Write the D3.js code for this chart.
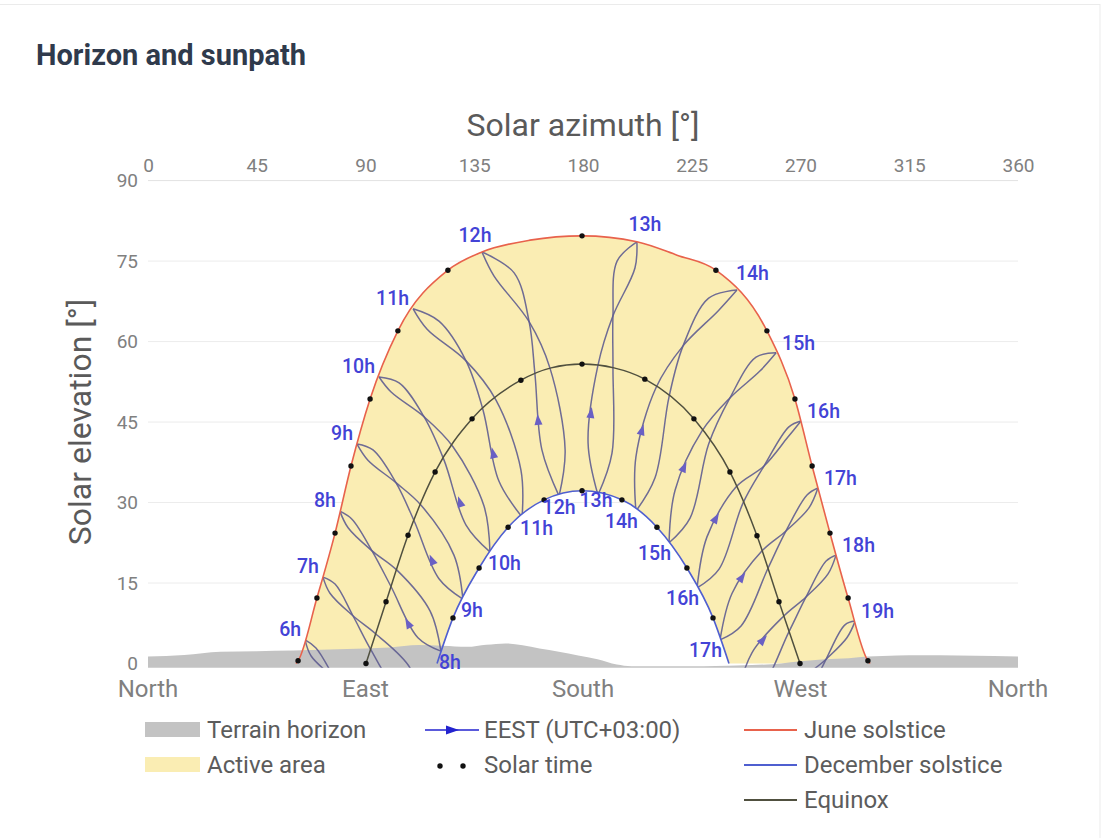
<!DOCTYPE html>
<html>
<head>
<meta charset="utf-8">
<script src="https://cdn.jsdelivr.net/npm/d3@7"></script>
<style>
  body { margin: 0; background: #fff; font-family: Roboto, "Open Sans", sans-serif; }
</style>
</head>
<body>
<div id="chart"></div>
<script>
// values, [azimuth, elevation] in degrees
var azimuthTicks = [0, 45, 90, 135, 180, 225, 270, 315, 360];
var elevationTicks = [0, 15, 30, 45, 60, 75, 90];
var compassNames = ["North", "East", "South", "West", "North"];
var compassAz = [0, 90, 180, 270, 360];

var terrainAz = [0, 15, 30, 45, 60, 75, 90, 100, 112, 122, 132, 140, 148, 155, 162, 170, 178, 186, 194, 200, 230, 250, 262, 270, 280, 290, 298, 310, 320, 335, 350, 360];
var terrainEl = [1.3, 1.6, 2.2, 2.3, 2.4, 2.6, 2.8, 3.0, 3.45, 3.3, 3.1, 3.5, 3.75, 3.4, 2.8, 2.2, 1.5, 0.8, -0.2, -0.5, -0.5, -0.3, 0.0, 0.4, 0.8, 1.0, 1.3, 1.5, 1.55, 1.5, 1.4, 1.3];

var juneSolstice = [[61.2,0],[62.1,0.5],[69.9,12.2],[77.4,24.3],[84.0,36.8],[91.9,49.3],[103.4,62.0],[124.1,73.3],[138.2,76.7],[158.1,78.9],[179.6,79.7],[202.3,78.6],[218.9,76.1],[235.0,73.3],[256.1,62.0],[267.7,49.3],[274.8,36.8],[282.2,24.3],[289.7,12.2],[297.9,0.5],[298.8,0]];
var equinox = [[90.2,0],[98.5,11.5],[107.6,23.9],[118.8,35.7],[134.1,45.6],[154.3,52.8],[166.8,55.1],[179.6,55.8],[192.8,55.1],[205.6,53.0],[225.9,45.6],[240.8,35.7],[252.0,23.8],[261.1,11.5],[269.8,0]];
var decSolstice = [[119.6,0],[126.2,8.5],[137.0,17.8],[149.0,25.4],[163.9,30.5],[179.6,32.2],[196.1,30.5],[210.6,25.4],[223.0,17.8],[233.8,8.5],[240.4,0]];

// solar-time dots
var juneDots = [[62.1,0.5],[69.9,12.2],[77.4,24.3],[84.0,36.8],[91.9,49.3],[103.4,62.0],[124.1,73.3],[179.6,79.7],[235.0,73.3],[256.1,62.0],[267.7,49.3],[274.8,36.8],[282.2,24.3],[289.7,12.2],[297.9,0.5]];
var equinoxDots = [[90.2,0],[98.5,11.5],[107.6,23.9],[118.8,35.7],[134.1,45.6],[154.3,52.8],[179.6,55.8],[205.6,53.0],[225.9,45.6],[240.8,35.7],[252.0,23.8],[261.1,11.5],[269.8,0]];
var decDots = [[126.2,8.5],[137.0,17.8],[149.0,25.4],[163.9,30.5],[179.6,32.2],[196.1,30.5],[210.6,25.4],[223.0,17.8],[233.8,8.5]];

// one loop per clock hour: june point, spring strand down to the december point, autumn strand back up
var hourNames = ["6h","7h","8h","9h","10h","11h","12h","13h","14h","15h","16h","17h","18h","19h"];
var analemmas = [
  [[65.0,4.4],[69.5,2.9],[77.0,-2.7],[84.0,-9.0],[98.1,-19.9],[106.3,-21.7],[104.3,-16.1],[86.1,-6.1],[77.0,-2.7],[67.5,1.4]],
  [[72.4,16.1],[77.4,14.8],[84.8,8.9],[92.3,2.5],[103.9,-5.7],[113.0,-8.1],[108.4,-0.8],[94.3,5.5],[84.8,8.9],[75.3,13.1]],
  [[79.4,28.4],[84.4,26.9],[92.7,21.0],[100.6,14.3],[111.7,4.8],[121.2,2.3],[116.7,9.8],[103.0,17.4],[92.7,21.0],[82.8,25.3]],
  [[86.5,40.9],[93.1,39.8],[102.6,33.7],[110.1,26.6],[120.4,15.8],[130.3,12.0],[126.6,20.2],[113.0,29.5],[102.6,33.7],[91.0,37.9]],
  [[95.6,53.4],[103.9,52.3],[114.2,46.0],[122.5,37.9],[131.6,25.8],[141.5,20.8],[139.0,29.4],[126.2,40.4],[114.2,46.0],[100.6,50.6]],
  [[109.7,66.1],[120.4,63.8],[131.6,56.4],[138.6,47.3],[145.2,34.0],[154.8,27.3],[154.3,36.1],[144.0,49.1],[131.6,56.4],[115.5,62.3]],
  [[138.2,76.7],[151.5,72.8],[157.7,63.7],[160.1,54.0],[163.0,39.8],[170.1,31.2],[172.6,39.8],[166.3,55.1],[157.7,63.7],[143.2,72.2]],
  [[202.3,78.6],[201.5,73.7],[192.4,64.8],[186.2,55.6],[182.1,41.1],[186.2,31.4],[192.0,39.2],[192.4,55.1],[192.4,64.8],[194.1,75.0]],
  [[243.7,69.6],[235.9,65.7],[221.4,59.2],[210.2,51.4],[201.9,38.5],[201.9,28.4],[209.8,34.6],[215.6,49.7],[221.4,59.2],[232.0,68.1]],
  [[259.9,57.9],[253.2,54.5],[240.8,49.5],[229.2,43.3],[218.1,32.3],[215.6,22.5],[224.3,27.1],[232.0,40.9],[240.8,49.5],[251.6,57.1]],
  [[270.2,45.2],[264.8,42.2],[254.9,36.8],[243.3,32.9],[231.3,23.6],[227.2,14.1],[236.3,17.6],[246.2,29.9],[254.9,36.8],[265.2,44.1]],
  [[277.2,32.7],[273.5,29.0],[264.0,24.7],[254.1,21.0],[241.7,13.1],[236.7,4.4],[245.4,7.0],[256.6,17.8],[264.0,24.7],[272.7,31.4]],
  [[284.7,20.2],[281.4,16.7],[272.3,12.4],[263.2,8.9],[249.9,2.0],[243.7,-6.1],[253.2,-4.6],[265.2,5.9],[272.3,12.4],[280.6,19.1]],
  [[292.6,7.9],[289.2,4.8],[280.6,0.8],[271.9,-2.7],[259.5,-12.4],[253.2,-14.3],[265.7,-18.0],[273.9,-5.7],[280.6,0.8],[288.4,7.2]]
];

// direction arrows on the spring strands
var arrowHours = ["8h","9h","10h","11h","12h","13h","14h","15h","16h","17h","18h"];
var arrowPoints = [[107.6,7.5],[117.5,19.3],[129.1,30.1],[142.8,39.2],[161.4,45.4],[183.3,46.7],[204.4,43.5],[221.8,36.6],[235.0,27.1],[245.8,16.1],[254.5,4.4]];

var legendLeft = ["Terrain horizon", "Active area"];
var legendMiddle = ["EEST (UTC+03:00)", "Solar time"];
var legendRight = ["June solstice", "December solstice", "Equinox"];

var W = 1103, H = 838;
var col = {
  yellow: "#faedb3", terrain: "#c3c3c3", june: "#e8624c", dec: "#4f5fd0",
  equinox: "#50503f", loop: "#5f5d90", arrow: "#6a60c4", label: "#4343d6",
  grid: "#ececec", tick: "#808080", title: "#5a5a5a"
};

var svg = d3.select("#chart").append("svg")
  .attr("width", W).attr("height", H)
  .style("font-family", "Roboto, 'Open Sans', sans-serif");

svg.append("rect")
  .attr("x", -2).attr("y", 4.5).attr("width", 1102).attr("height", 900)
  .attr("fill", "#fff").attr("stroke", "#ebebeb");

svg.append("text")
  .attr("x", 36).attr("y", 65)
  .attr("font-size", 29).attr("font-weight", 700).attr("fill", "#2f3a4c")
  .text("Horizon and sunpath");

var x = d3.scaleLinear().domain([0, 360]).range([148, 1018]);
var y = d3.scaleLinear().domain([0, 90]).range([663.5, 180.6]);

// grid
svg.append("g").selectAll("line")
  .data(elevationTicks.filter(function(d){ return d > 0; }))
  .enter().append("line")
    .attr("x1", x(0)).attr("x2", x(360))
    .attr("y1", function(d){ return y(d); }).attr("y2", function(d){ return y(d); })
    .attr("stroke", function(d){ return d == 90 ? "#e2e2e2" : col.grid; })
    .attr("stroke-width", 1);

// axes
var topAxis = svg.append("g")
  .attr("transform", "translate(0," + y(90) + ")")
  .call(d3.axisTop(x).tickValues(azimuthTicks).tickSize(0).tickPadding(9));
var leftAxis = svg.append("g")
  .attr("transform", "translate(" + x(0) + ",0)")
  .call(d3.axisLeft(y).tickValues(elevationTicks).tickSize(0).tickPadding(10));
[topAxis, leftAxis].forEach(function(g){
  g.select(".domain").remove();
  g.selectAll("text").attr("font-size", 19).attr("fill", col.tick)
    .attr("font-family", "Roboto, sans-serif");
});

svg.append("text")
  .attr("x", x(180)).attr("y", 136)
  .attr("text-anchor", "middle").attr("font-size", 32).attr("fill", col.title)
  .text("Solar azimuth [°]");
svg.append("text")
  .attr("transform", "translate(91," + y(45) + ") rotate(-90)")
  .attr("text-anchor", "middle").attr("font-size", 32).attr("fill", col.title)
  .text("Solar elevation [°]");

svg.append("g").selectAll("text")
  .data(compassAz).enter().append("text")
    .attr("x", function(d){ return x(d); }).attr("y", 697)
    .attr("text-anchor", "middle").attr("font-size", 24).attr("fill", col.tick)
    .text(function(d, i){ return compassNames[i]; });

// active area = under june path, minus under december path
var area = d3.area()
  .x(function(d){ return x(d[0]); })
  .y0(y(0))
  .y1(function(d){ return y(d[1]); })
  .curve(d3.curveMonotoneX);
svg.append("path")
  .attr("d", area(juneSolstice) + area(decSolstice))
  .attr("fill-rule", "evenodd")
  .attr("fill", col.yellow);

// terrain horizon
var terrain = terrainAz.map(function(a, i){ return [a, terrainEl[i]]; });
svg.append("path")
  .datum(terrain)
  .attr("d", d3.area()
    .x(function(d){ return x(d[0]); })
    .y0(y(-0.8))
    .y1(function(d){ return y(d[1]); })
    .curve(d3.curveMonotoneX))
  .attr("fill", col.terrain);

// hour loops stay inside the june path and outside the december path
var areaDown = d3.area()
  .x(function(d){ return x(d[0]); })
  .y0(y(-0.8))
  .y1(function(d){ return y(d[1]); })
  .curve(d3.curveMonotoneX);
svg.append("clipPath").attr("id", "loopClip")
  .append("path")
    .attr("d", areaDown(juneSolstice) + areaDown(decSolstice))
    .attr("clip-rule", "evenodd");

var strandLine = d3.line()
  .x(function(d){ return x(d[0]); })
  .y(function(d){ return y(d[1]); })
  .curve(d3.curveCatmullRom.alpha(0.5));
var strands = [];
analemmas.forEach(function(loop){
  strands.push(loop.slice(0, 6));
  strands.push(loop.slice(5).concat([loop[0]]));
});
svg.append("g").attr("clip-path", "url(#loopClip)")
  .selectAll("path")
  .data(strands).enter().append("path")
    .attr("d", strandLine)
    .attr("fill", "none")
    .attr("stroke", col.loop)
    .attr("stroke-width", 1.5)
    .attr("stroke-opacity", 0.9);

// day paths
var dayLine = d3.line()
  .x(function(d){ return x(d[0]); })
  .y(function(d){ return y(d[1]); })
  .curve(d3.curveMonotoneX);
svg.append("path").datum(equinox).attr("d", dayLine)
  .attr("fill", "none").attr("stroke", col.equinox).attr("stroke-width", 1.5);
svg.append("path").datum(decSolstice).attr("d", dayLine)
  .attr("fill", "none").attr("stroke", col.dec).attr("stroke-width", 1.6);
svg.append("path").datum(juneSolstice).attr("d", dayLine)
  .attr("fill", "none").attr("stroke", col.june).attr("stroke-width", 1.6);

// solar time dots
svg.append("g").selectAll("circle")
  .data(juneDots.concat(equinoxDots, decDots))
  .enter().append("circle")
    .attr("cx", function(d){ return x(d[0]); })
    .attr("cy", function(d){ return y(d[1]); })
    .attr("r", 2.7)
    .attr("fill", "#111");

// arrows, pointing up the spring strand
svg.append("g").selectAll("path")
  .data(arrowPoints).enter().append("path")
    .attr("d", "M6,0 L-5,-4 L-5,4 Z")
    .attr("fill", col.arrow)
    .attr("transform", function(d, i){
      var loop = analemmas[hourNames.indexOf(arrowHours[i])];
      var a = loop[4], b = loop[3];
      var ang = Math.atan2(y(b[1]) - y(a[1]), x(b[0]) - x(a[0])) * 180 / Math.PI;
      return "translate(" + x(d[0]) + "," + y(d[1]) + ") rotate(" + ang + ")";
    });

// hour labels at june solstice
svg.append("g").selectAll("text")
  .data(analemmas).enter().append("text")
    .each(function(loop, i){
      var p = loop[0], px = x(p[0]), py = y(p[1]);
      var anchor, tx, ty;
      if (p[0] < 130) { anchor = "end"; tx = px - 4; ty = py - 11; }
      else if (p[0] < 180) { anchor = "middle"; tx = px - 7; ty = py - 17; }
      else if (p[0] < 230) { anchor = "middle"; tx = px + 8; ty = py - 18; }
      else if (p[0] < 250) { anchor = "start"; tx = px - 1; ty = py - 17; }
      else { anchor = "start"; tx = px + 6; ty = py - 10; }
      d3.select(this).attr("x", tx).attr("y", ty).attr("dy", "0.35em")
        .attr("text-anchor", anchor);
    })
    .attr("font-size", 19.5).attr("font-weight", 500).attr("fill", col.label)
    .text(function(d, i){ return hourNames[i]; });

// hour labels at december solstice (only where the sun is up)
var decLabelled = analemmas.map(function(l, i){ return [l[5], hourNames[i]]; })
  .filter(function(d){ return d[0][1] > 1; });
svg.append("g").selectAll("text")
  .data(decLabelled).enter().append("text")
    .each(function(d){
      var p = d[0], px = x(p[0]), py = y(p[1]);
      var anchor, tx, ty;
      if (p[0] < 165) { anchor = "start"; tx = px - 2; ty = py + 11; }
      else if (p[0] < 180) { anchor = "middle"; tx = px; ty = py + 11; }
      else if (p[0] < 200) { anchor = "middle"; tx = px - 2; ty = py + 5; }
      else { anchor = "end"; tx = px + 2; ty = py + 10; }
      d3.select(this).attr("x", tx).attr("y", ty).attr("dy", "0.35em")
        .attr("text-anchor", anchor);
    })
    .attr("font-size", 19.5).attr("font-weight", 500).attr("fill", col.label)
    .text(function(d){ return d[1]; });

// legend
var lg = svg.append("g").attr("font-size", 24).attr("fill", "#5c5c5c");
var rowY = [730, 765, 800];

lg.append("rect").attr("x", 145).attr("y", 722).attr("width", 55).attr("height", 15).attr("fill", col.terrain);
lg.append("rect").attr("x", 145).attr("y", 757).attr("width", 55).attr("height", 15).attr("fill", col.yellow);
legendLeft.forEach(function(t, i){
  lg.append("text").attr("x", 207).attr("y", rowY[i]).attr("dy", "0.35em").text(t);
});

lg.append("line").attr("x1", 425).attr("x2", 479).attr("y1", rowY[0]).attr("y2", rowY[0])
  .attr("stroke", "#2323cf").attr("stroke-width", 1.6);
lg.append("path").attr("d", "M459," + rowY[0] + " L446," + (rowY[0] - 4.5) + " L446," + (rowY[0] + 4.5) + " Z")
  .attr("fill", "#2323cf");
[440, 463].forEach(function(cx){
  lg.append("circle").attr("cx", cx).attr("cy", rowY[1] + 1).attr("r", 2.7).attr("fill", "#111");
});
legendMiddle.forEach(function(t, i){
  lg.append("text").attr("x", 484).attr("y", rowY[i]).attr("dy", "0.35em").text(t);
});

[col.june, col.dec, col.equinox].forEach(function(c, i){
  lg.append("line").attr("x1", 744).attr("x2", 797).attr("y1", rowY[i]).attr("y2", rowY[i])
    .attr("stroke", c).attr("stroke-width", 2);
});
legendRight.forEach(function(t, i){
  lg.append("text").attr("x", 804).attr("y", rowY[i]).attr("dy", "0.35em").text(t);
});
</script>
</body>
</html>
